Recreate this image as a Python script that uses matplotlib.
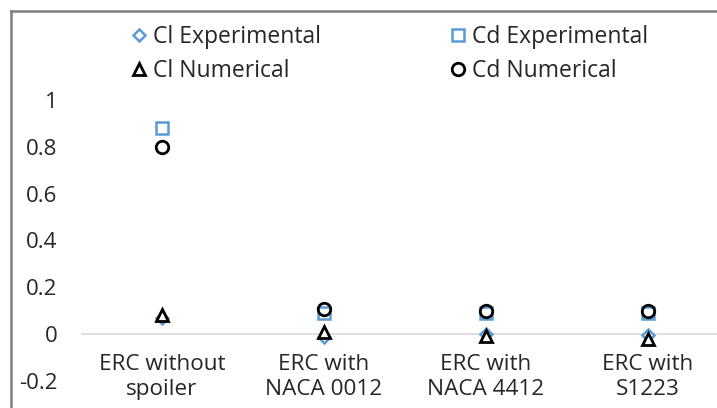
import matplotlib.pyplot as plt
from matplotlib.lines import Line2D

plt.rcParams['font.family'] = ['Open Sans', 'DejaVu Sans']

categories = ["ERC without\nspoiler", "ERC with\nNACA 0012", "ERC with\nNACA 4412", "ERC with\nS1223"]
cl_exp = [0.07, -0.013, 0.0, -0.005]
cd_exp = [0.88, 0.09, 0.09, 0.09]
cl_num = [0.08, 0.01, -0.008, -0.02]
cd_num = [0.80, 0.106, 0.10, 0.10]

blue = '#5B9BD5'
txt = '#262626'
x = list(range(len(categories)))

fig = plt.figure(figsize=(7.17, 4.08), dpi=100)
ax = fig.add_axes([81 / 717, 1 - 381 / 408, 648 / 717, 281 / 408])

h1, = ax.plot(x, cl_exp, linestyle='none', marker='D', markersize=6, mfc='white', mec=blue, mew=1.8, label='Cl Experimental')
h2, = ax.plot(x, cd_exp, linestyle='none', marker='s', markersize=9, mfc='none', mec=blue, mew=1.8, label='Cd Experimental')
h3, = ax.plot(x, cl_num, linestyle='none', marker='^', markersize=8.5, mfc='white', mec='black', mew=2, label='Cl Numerical')
h4, = ax.plot(x, cd_num, linestyle='none', marker='o', markersize=9, mfc='none', mec='black', mew=2, label='Cd Numerical')

ax.set_xlim(-0.5, 3.5)
ax.set_ylim(-0.2, 1.0)
ax.set_yticks([-0.2, 0, 0.2, 0.4, 0.6, 0.8, 1])
ax.set_yticklabels(['-0.2', '0', '0.2', '0.4', '0.6', '0.8', '1'])
ax.tick_params(axis='y', length=0, pad=17, labelsize=16, labelcolor=txt)
ax.set_xticks([])
for s in ['top', 'right', 'left', 'bottom']:
    ax.spines[s].set_visible(False)
ax.axhline(0, color='#D9D9D9', lw=1.2, zorder=0)

for xi, lab in zip(x, categories):
    ax.annotate(lab, xy=(xi, 0), xytext=(0, -14), textcoords='offset points',
                ha='center', va='top', fontsize=16.2, color=txt, linespacing=1.28)

fig.legend(handles=[h1, h3, h2, h4], ncol=2, loc='upper left',
           bbox_to_anchor=(130 / 717, 1 - 25 / 408), frameon=False,
           borderpad=0, borderaxespad=0,
           fontsize=16.5, handlelength=0.8, handletextpad=0.2,
           columnspacing=5.6, labelspacing=0.45, labelcolor=txt)

# figure border (left and top)
fig.add_artist(Line2D([11 / 717, 11 / 717], [0, 1 - 11 / 408], color='#7F7F7F', lw=1.8))
fig.add_artist(Line2D([11 / 717, 1], [1 - 11 / 408, 1 - 11 / 408], color='#7F7F7F', lw=1.8))

fig.savefig('out.png', dpi=100)
